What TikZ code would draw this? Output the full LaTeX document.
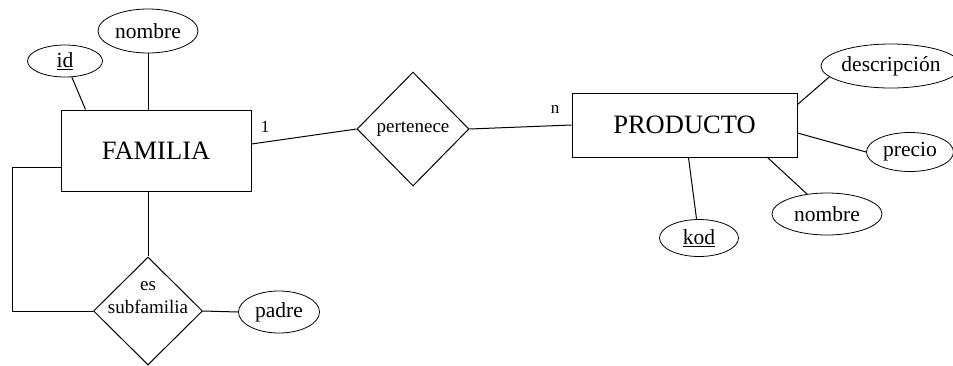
\documentclass[tikz,border=0pt]{standalone}
\usepackage{fontspec}
\setmainfont{Liberation Serif}
\usetikzlibrary{shapes.geometric}

\begin{document}
\begin{tikzpicture}[x=1pt,y=-1pt,line width=1pt,
	entidad/.style={draw, rectangle, inner sep=0, font=\fontsize{26.5}{30}\selectfont},
	atributo/.style={draw, ellipse, inner sep=0, line width=0.8pt, font=\fontsize{21.5}{24}\selectfont},
	relacion/.style={draw, diamond, inner sep=0, font=\fontsize{19}{23}\selectfont},
	card/.style={inner sep=0, font=\fontsize{17}{20}\selectfont}]
	\useasboundingbox (0,0) rectangle (953,365);

	%% ========================================================
	\node[entidad, minimum width=190pt, minimum height=81pt] (familia) at (156,150.5) {FAMILIA};
	\node[atributo, minimum width=75pt, minimum height=32pt] (id) at (65,61) {\underline{id}};
	\node[atributo, minimum width=100pt, minimum height=44pt] (nombre) at (148,31) {nombre};

	\draw (id) -- ([xshift=25pt]familia.north west);
	\draw (nombre) -- (nombre |- familia.north);

	\begin{scope}% es subfamilia
		\node[relacion, minimum width=109pt, minimum height=108pt,
			label={[align=center, inner sep=0, yshift=13pt, font=\fontsize{19}{23}\selectfont]center:{es\\subfamilia}}] (subfam) at (148,311) {};
		\node[atributo, minimum width=81pt, minimum height=42pt] (padre) at (279,312) {padre};

		\draw (subfam) -- (subfam |- familia.south);
		\draw (subfam.west) -- ++(-81,0) |- ([yshift=-16.5pt]familia.west);
		\draw (subfam.east) -- (padre.west);
	\end{scope}
	%% ========================================================

	%% ========================================================
	\node[relacion, minimum width=112pt, minimum height=114pt] (pertenece) at (413,129) {pertenece};
	\node[entidad, minimum width=225pt, minimum height=64pt] (producto) at (684.5,125) {PRODUCTO};

	\draw ([yshift=6.5pt]familia.east) -- (pertenece.west);
	\draw (pertenece.east) -- (producto.west);
	\node[card] (uno) at (265,127) {1};
	\node[card] (ene) at (555,109) {n};
	%% ========================================================

	%% ========================================================
	\node[atributo, minimum width=120pt, minimum height=44pt] (descripcion) at (891,66) {descripción};
	\node[atributo, minimum width=87pt, minimum height=39pt] (precio) at (910,152) {precio};
	\node[atributo, minimum width=110pt, minimum height=42pt] (nombreP) at (827,214) {nombre};
	\node[atributo, minimum width=79pt, minimum height=37pt] (kod) at (699,238) {\underline{kod}};

	\draw (descripcion.190) -- ([yshift=-12pt]producto.north east);
	\draw (precio.west) -- ([yshift=-8pt]producto.east);
	\draw (nombreP.135) -- ([xshift=-30pt]producto.south east);
	\draw (kod) -- ([xshift=4pt]producto.south);
	%% ========================================================
\end{tikzpicture}
\end{document}
